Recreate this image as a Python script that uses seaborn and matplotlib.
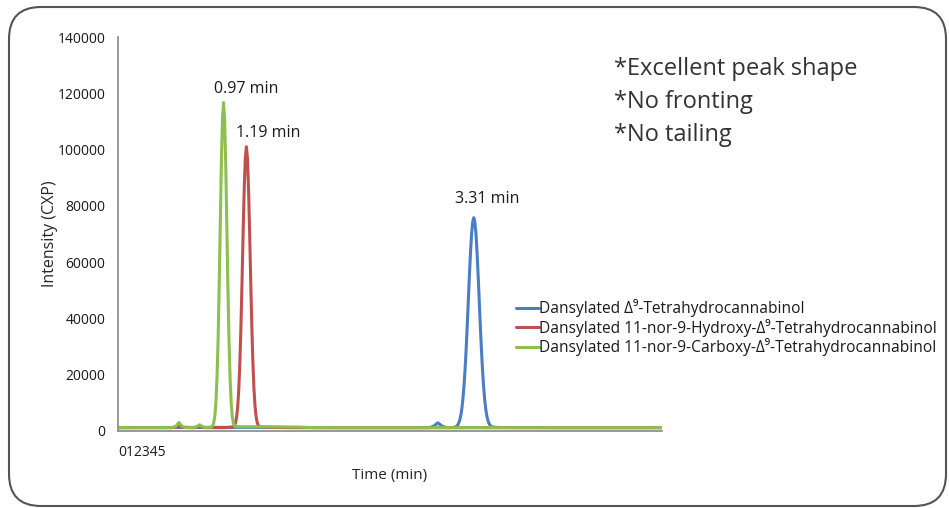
import numpy as np
import pandas as pd
import matplotlib
matplotlib.use("Agg")
import matplotlib.pyplot as plt
import seaborn as sns
from matplotlib.patches import FancyBboxPatch
from matplotlib.transforms import IdentityTransform

# chromatogram traces (time in min, intensity in CXP)
thc_time = [0.0, 1.0, 2.0, 2.86, 2.90, 2.94, 2.98, 3.02, 3.08,
            3.10, 3.11, 3.12, 3.13, 3.14, 3.15, 3.16, 3.17, 3.18, 3.19,
            3.20, 3.21, 3.22, 3.23, 3.24, 3.25, 3.26, 3.27, 3.28, 3.29,
            3.30, 3.31, 3.32, 3.33, 3.34, 3.35, 3.36, 3.37, 3.38, 3.39,
            3.40, 3.41, 3.42, 3.43, 3.44, 3.50, 4.0, 5.0]
thc_int = [1200, 1300, 1200, 1200, 1700, 2900, 1700, 1200, 1250,
           1430, 1650, 2030, 2700, 3700, 5400, 7800, 11300, 16000, 21900,
           29200, 37500, 46500, 55400, 63500, 70100, 74300, 75800, 74300, 70100,
           63500, 55400, 46500, 37500, 29200, 21900, 16000, 11300, 7800, 5400,
           3700, 2700, 2030, 1650, 1430, 1250, 1200, 1200]

oh_time = [0.0, 0.50, 0.53, 0.56, 0.59, 0.70, 0.75, 0.80, 1.00,
           1.06, 1.07, 1.08, 1.09, 1.10, 1.11, 1.12, 1.13, 1.14, 1.15,
           1.16, 1.17, 1.18, 1.19, 1.20, 1.21, 1.22, 1.23, 1.24, 1.25,
           1.26, 1.27, 1.28, 1.29, 1.30, 1.36, 1.60, 5.0]
oh_int = [1200, 1200, 1400, 1900, 1300, 1200, 1500, 1200, 1200,
          1480, 1900, 2900, 4900, 8500, 14700, 24200, 37100, 53100, 70400,
          85900, 97000, 101000, 97000, 85900, 70400, 53100, 37100, 24200, 14700,
          8500, 4900, 2900, 1900, 1480, 1300, 1200, 1200]

cooh_time = [0.0, 0.50, 0.53, 0.56, 0.59, 0.62, 0.70, 0.73, 0.75, 0.77, 0.80,
             0.86, 0.87, 0.88, 0.89, 0.90, 0.91, 0.92, 0.93, 0.94, 0.95,
             0.96, 0.97, 0.98, 0.99, 1.00, 1.01, 1.02, 1.03, 1.04, 1.05,
             1.06, 1.07, 1.08, 1.12, 1.40, 1.65, 1.80, 5.0]
cooh_int = [1200, 1200, 1600, 3000, 1600, 1200, 1200, 1700, 2200, 1700, 1200,
            1400, 1840, 2900, 5300, 10200, 19000, 32600, 51400, 73500, 95000,
            110800, 116700, 110800, 95000, 73500, 51400, 32600, 19000, 10200, 5300,
            2900, 1840, 1600, 1500, 1500, 1400, 1200, 1200]

series_names = ["Dansylated \u0394\u2079-Tetrahydrocannabinol",
                "Dansylated 11-nor-9-Hydroxy-\u0394\u2079-Tetrahydrocannabinol",
                "Dansylated 11-nor-9-Carboxy-\u0394\u2079-Tetrahydrocannabinol"]
series_colors = ["#4A7EC4", "#C0504D", "#8DBF4F"]

peak_labels = ["0.97 min", "1.19 min", "3.31 min"]
peak_label_x = [1.18, 1.38, 3.39]
peak_label_y = [121500, 105900, 82400]

notes = ["*Excellent peak shape", "*No fronting", "*No tailing"]

y_ticks = [0, 20000, 40000, 60000, 80000, 100000, 120000, 140000]
x_ticks = [0, 1, 2, 3, 4, 5]

frames = []
for name, t, v in zip(series_names, [thc_time, oh_time, cooh_time],
                      [thc_int, oh_int, cooh_int]):
    frames.append(pd.DataFrame({"series": name, "time": t, "intensity": v}))
df = pd.concat(frames, ignore_index=True)

sns.set_style("white")
plt.rcParams["font.family"] = ["Open Sans", "DejaVu Sans"]
plt.rcParams["text.color"] = "#1a1a1a"

fig = plt.figure(figsize=(9.49, 5.08), dpi=100)
ax = fig.add_axes([118 / 949, 1 - 431 / 508, 544 / 949, 394 / 508])

sns.lineplot(data=df, x="time", y="intensity", hue="series",
             hue_order=series_names, palette=series_colors,
             estimator=None, sort=False, linewidth=2.2, ax=ax, legend=False)

ax.set_xlim(0, 5)
ax.set_ylim(0, 140000)
ax.set_yticks(y_ticks)
ax.set_yticklabels([str(v) for v in y_ticks], fontsize=10, color="#1a1a1a")
ax.set_xticks(x_ticks)
ax.set_xticklabels(["012345", "", "", "", "", ""], fontsize=10, color="#1a1a1a")
for lab in ax.get_xticklabels():
    lab.set_horizontalalignment("left")
ax.tick_params(axis="both", direction="out", length=4, width=1, color="#888888")
ax.tick_params(axis="x", pad=6)
ax.tick_params(axis="y", pad=5)
for side in ["top", "right"]:
    ax.spines[side].set_visible(False)
for side in ["left", "bottom"]:
    ax.spines[side].set_color("#888888")
    ax.spines[side].set_linewidth(1.2)

ax.set_xlabel("Time (min)", fontsize=11, labelpad=6)
ax.set_ylabel("Intensity (CXP)", fontsize=11.5, labelpad=0)

for txt, x, y in zip(peak_labels, peak_label_x, peak_label_y):
    ax.text(x, y, txt, ha="center", va="center", fontsize=11.5)

for i, note in enumerate(notes):
    fig.text(614 / 949, 1 - (69 + 33 * i) / 508, note, fontsize=17,
             color="#333333", ha="left", va="center")

handles = ax.lines[:3]
fig.legend(handles, series_names, loc="upper left",
           bbox_to_anchor=(516 / 949, 1 - 299 / 508), frameon=False,
           fontsize=11.2, handlelength=1.45, handletextpad=0.05,
           labelspacing=0.1, borderpad=0, borderaxespad=0)

border = FancyBboxPatch((9, 2), 937, 499, boxstyle="round,pad=0,rounding_size=32",
                        transform=IdentityTransform(), facecolor="none",
                        edgecolor="#555555", linewidth=1.5)
fig.add_artist(border)

fig.savefig("out.png", dpi=100)
